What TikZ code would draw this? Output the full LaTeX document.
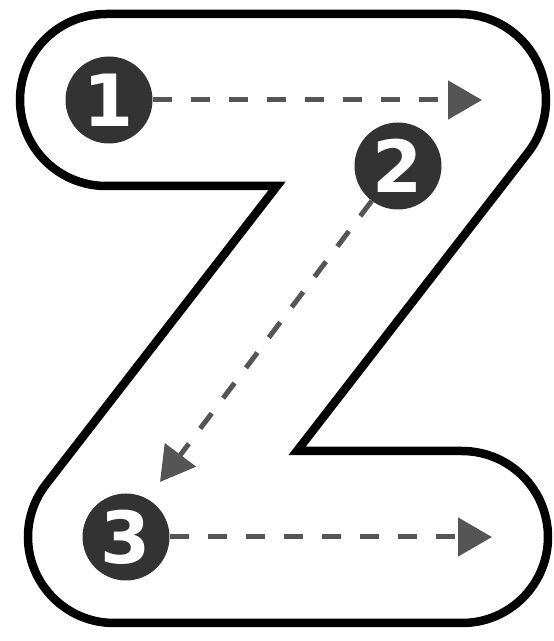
\documentclass[tikz,border=0pt]{standalone}
\usepackage{fontspec}
\newfontfamily\digitfont{DejaVu Sans}
\usetikzlibrary{arrows.meta}
\definecolor{dotgray}{RGB}{51,51,51}
\definecolor{dashgray}{RGB}{85,85,85}

\begin{document}
\begin{tikzpicture}[x=1pt, y=1pt,
    zline/.style={line width=8.5pt, line join=miter, miter limit=10},
    numdot/.style={circle, fill=dotgray, minimum size=87pt, inner sep=0pt,
      text=white, font=\digitfont\bfseries\fontsize{72}{72}\selectfont},
    guide/.style={dashgray, line width=5pt, dash pattern=on 19pt off 19pt,
      -{Triangle[length=34pt, width=38pt]}}]
  \useasboundingbox (0,0) rectangle (554,641);
  % outline of the Z
  \draw[zline] (106,627) -- (460,627) arc[start angle=90, end angle=-37.7, radius=86]
    -- (297,190) -- (462,190) arc[start angle=90, end angle=-90, radius=86]
    -- (114,18) arc[start angle=270, end angle=142.3, radius=86]
    -- (277,455) -- (106,455) arc[start angle=270, end angle=90, radius=86] -- cycle;
  % numbered strokes
  \foreach \n/\cx/\cy in {1/109/541, 2/398/475, 3/126/104}{
    \node[numdot] (n\n) at (\cx,\cy) {\n};
  }
  \coordinate (t1) at (482,541);
  \coordinate (t2) at (160,159);
  \coordinate (t3) at (492,104);
  \draw[guide] (n1) -- (t1);
  \draw[guide] (n2) -- (t2);
  \draw[guide] (n3) -- (t3);
\end{tikzpicture}
\end{document}
